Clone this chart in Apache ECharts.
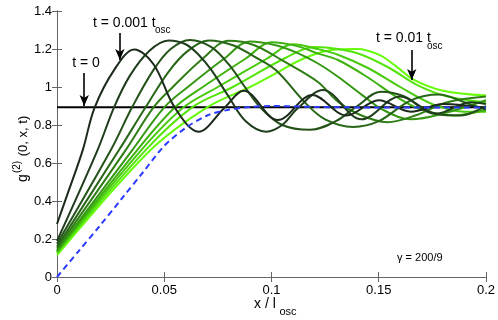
<!DOCTYPE html>
<html><head><meta charset="utf-8">
<script src="https://cdn.jsdelivr.net/npm/echarts@6/dist/echarts.min.js"></script>
<style>html,body{margin:0;padding:0;background:#fff}#c{width:498px;height:320px}</style>
</head><body><div id="c"></div>
<script>
// ---- data ----
const xTicks = [0, 0.05, 0.1, 0.15, 0.2];
const yTicks = [0, 0.2, 0.4, 0.6, 0.8, 1, 1.2, 1.4];
const t0Line = [[0, 0.893], [0.2, 0.893]];
const steadyCurve = [[0,0],[0.01,0.135],[0.02,0.27],[0.03,0.41],[0.04,0.55],[0.05,0.69],[0.06,0.785],[0.07,0.85],[0.08,0.88],[0.09,0.895],[0.1,0.9],[0.12,0.895],[0.15,0.892],[0.2,0.892]];
const curve1 = [[0,0.279],[0.005,0.44],[0.012,0.668],[0.0175,0.89],[0.0266,1.089],[0.036,1.198],[0.045,1.12],[0.055,0.89],[0.066,0.765],[0.078,0.89],[0.087,0.98],[0.103,0.826],[0.119,0.958],[0.135,0.85],[0.15,0.93],[0.165,0.87],[0.18,0.91],[0.2,0.89]];
const curve2 = [[0,0.19],[0.0189,0.668],[0.0266,0.893],[0.034,1.06],[0.043,1.19],[0.052,1.245],[0.06,1.225],[0.066,1.17],[0.072,1.089],[0.08,0.95],[0.088,0.82],[0.0975,0.765],[0.105,0.8],[0.112,0.885],[0.124,0.984],[0.142,0.83],[0.16,0.95],[0.177,0.86],[0.193,0.92],[0.2,0.91]];
const curve3 = [[0,0.175],[0.0251,0.668],[0.035,0.893],[0.045,1.09],[0.053,1.2],[0.062,1.248],[0.072,1.21],[0.08,1.12],[0.0876,1.0],[0.095,0.89],[0.105,0.8],[0.118,0.775],[0.13,0.82],[0.14,0.9],[0.151,0.975],[0.162,0.95],[0.175,0.86],[0.188,0.85],[0.2,0.9]];
const curve4 = [[0,0.16],[0.0289,0.668],[0.0413,0.893],[0.052,1.08],[0.061,1.19],[0.071,1.245],[0.082,1.22],[0.092,1.16],[0.102,1.089],[0.116,0.914],[0.125,0.83],[0.138,0.79],[0.15,0.82],[0.165,0.93],[0.178,0.96],[0.19,0.92],[0.2,0.88]];
const curve5 = [[0,0.15],[0.032,0.668],[0.045,0.893],[0.054,1.0],[0.068,1.15],[0.08,1.243],[0.092,1.22],[0.105,1.14],[0.1215,1.028],[0.131,0.923],[0.142,0.85],[0.154,0.815],[0.167,0.85],[0.182,0.92],[0.2,0.95]];
const curve6 = [[0,0.14],[0.0351,0.668],[0.05,0.893],[0.061,1.0],[0.078,1.15],[0.09,1.24],[0.102,1.22],[0.112,1.18],[0.1215,1.125],[0.131,1.054],[0.142,0.96],[0.152,0.88],[0.165,0.83],[0.18,0.86],[0.2,0.93]];
const curve7 = [[0,0.135],[0.0374,0.668],[0.055,0.893],[0.068,1.0],[0.088,1.15],[0.1,1.235],[0.112,1.215],[0.1215,1.177],[0.131,1.142],[0.145,1.05],[0.158,0.95],[0.17,0.88],[0.185,0.85],[0.2,0.88]];
const curve8 = [[0,0.13],[0.0393,0.668],[0.059,0.893],[0.075,1.0],[0.098,1.15],[0.11,1.225],[0.1215,1.2],[0.131,1.17],[0.145,1.1],[0.16,1.0],[0.175,0.91],[0.19,0.87],[0.2,0.87]];
const curve9 = [[0,0.125],[0.0413,0.668],[0.063,0.893],[0.082,1.0],[0.106,1.15],[0.12,1.21],[0.131,1.2],[0.142,1.17],[0.155,1.1],[0.168,1.01],[0.182,0.95],[0.2,0.92]];
const curve10 = [[0,0.115],[0.0436,0.668],[0.07,0.893],[0.09,1.0],[0.1,1.06],[0.115,1.15],[0.128,1.195],[0.14,1.2],[0.15,1.17],[0.158,1.11],[0.166,1.04],[0.18,0.98],[0.2,0.955]];
const curves = [curve1, curve2, curve3, curve4, curve5, curve6, curve7, curve8, curve9, curve10];
// annotation arrows in data coordinates: [x, yStart, yEnd]
const arrowT0 = [0.0127, 1.074, 0.9];
const arrowT001 = [0.0293, 1.284, 1.142];
const arrowT01 = [0.1654, 1.195, 1.037];

// ---- styles ----
const greens = ['#1b2a1b','#1f3d1c','#245219','#286717','#2e7e14','#349812','#3db20f','#48ca0c','#55e40a','#66fb08'];
const FONT = 'Liberation Sans, Arial, sans-serif';

const chart = echarts.init(document.getElementById('c'), null, {renderer: 'canvas'});

const series = [];
series.push({
  type: 'line', data: t0Line, showSymbol: false, silent: true,
  lineStyle: {color: '#000', width: 2}, z: 2,
  markLine: {
    silent: true, symbol: ['none', 'arrow'], symbolSize: [7, 11],
    label: {show: false},
    lineStyle: {color: '#000', width: 1.6, type: 'solid'},
    data: [arrowT0, arrowT001, arrowT01].map(a => [{coord: [a[0], a[1]]}, {coord: [a[0], a[2]]}])
  }
});
for (let i = curves.length - 1; i >= 0; i--) {
  series.push({
    type: 'line', data: curves[i], showSymbol: false, silent: true, smooth: 0.35,
    lineStyle: {color: greens[i], width: 2}, z: 3 + (curves.length - i)
  });
}
series.push({
  type: 'line', data: steadyCurve, showSymbol: false, silent: true, smooth: 0.3,
  lineStyle: {color: '#2b3bff', width: 2, type: [6, 4]}, z: 20
});

const axisCommon = {
  axisLine: {show: true, lineStyle: {color: '#666', width: 1}},
  axisTick: {show: true, inside: true, length: 5, lineStyle: {color: '#666'}},
  splitLine: {show: false}
};

chart.setOption({
  animation: false,
  backgroundColor: '#fff',
  grid: {left: 57, right: 8, top: 11, bottom: 43},
  xAxis: [
    Object.assign({type: 'value', min: 0, max: 0.2, interval: 0.05, position: 'bottom',
      axisLabel: {color: '#000', fontSize: 13, fontFamily: FONT, margin: 7}}, axisCommon),
    Object.assign({type: 'value', min: 0, max: 0.2, interval: 0.05, position: 'top',
      axisLabel: {show: false}}, axisCommon)
  ],
  yAxis: [
    Object.assign({type: 'value', min: 0, max: 1.4, interval: 0.2, position: 'left',
      axisLabel: {color: '#000', fontSize: 13, fontFamily: FONT, margin: 5}}, axisCommon),
    Object.assign({type: 'value', min: 0, max: 1.4, interval: 0.2, position: 'right',
      axisLabel: {show: false}}, axisCommon)
  ],
  series: series,
  graphic: [
    // y axis title
    {type: 'text', x: 23, y: 178, rotation: Math.PI/2, style: {text: 'g', font: '14px ' + FONT, fill: '#000', align: 'center', verticalAlign: 'middle'}},
    {type: 'text', x: 17, y: 167, rotation: Math.PI/2, style: {text: '(2)', font: '10px ' + FONT, fill: '#000', align: 'center', verticalAlign: 'middle'}},
    {type: 'text', x: 23, y: 136, rotation: Math.PI/2, style: {text: '(0, x, t)', font: '13px ' + FONT, fill: '#000', align: 'center', verticalAlign: 'middle'}},
    // x axis title
    {type: 'text', x: 265, y: 304, style: {text: 'x / l', font: '14px ' + FONT, fill: '#000', align: 'center', verticalAlign: 'middle'}},
    {type: 'text', x: 288, y: 312, style: {text: 'osc', font: '11px ' + FONT, fill: '#000', align: 'center', verticalAlign: 'middle'}},
    // annotations
    {type: 'text', x: 86, y: 63, style: {text: 't = 0', font: '14px ' + FONT, fill: '#000', align: 'center', verticalAlign: 'middle'}},
    {type: 'text', x: 93, y: 23, style: {text: 't = 0.001 t', font: '14px ' + FONT, fill: '#000', align: 'left', verticalAlign: 'middle'}},
    {type: 'text', x: 155, y: 30, style: {text: 'osc', font: '10px ' + FONT, fill: '#000', align: 'left', verticalAlign: 'middle'}},
    {type: 'text', x: 376, y: 38, style: {text: 't = 0.01 t', font: '14px ' + FONT, fill: '#000', align: 'left', verticalAlign: 'middle'}},
    {type: 'text', x: 427, y: 46, style: {text: 'osc', font: '10px ' + FONT, fill: '#000', align: 'left', verticalAlign: 'middle'}},
    {type: 'text', x: 397, y: 258, style: {text: 'γ = 200/9', font: '11px ' + FONT, fill: '#000', align: 'left', verticalAlign: 'middle'}}
  ]
});
</script></body></html>
